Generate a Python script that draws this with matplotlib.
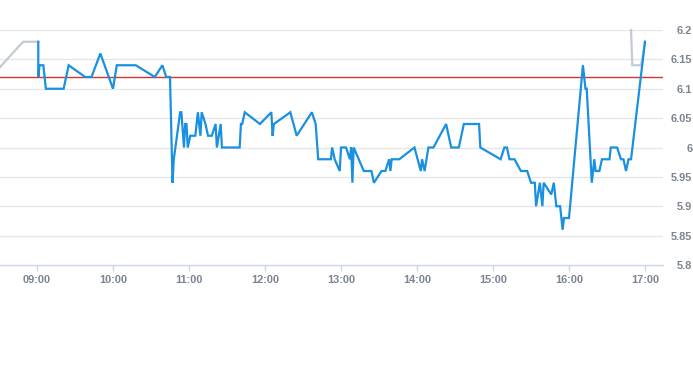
import matplotlib
matplotlib.use("Agg")
import matplotlib.pyplot as plt

# intraday price, blue series
blue_times = ["09:01", "09:01", "09:02", "09:05", "09:07", "09:21", "09:25", "09:38", "09:43", "09:50",
              "10:00", "10:03", "10:18", "10:33", "10:39", "10:42", "10:45", "10:47", "10:48", "10:53",
              "10:54", "10:56", "10:57", "10:58", "10:59", "11:01", "11:05", "11:07", "11:09", "11:10",
              "11:13", "11:15", "11:18", "11:21", "11:22", "11:25", "11:26", "11:40", "11:41", "11:42",
              "11:44", "11:56", "12:05", "12:06", "12:07", "12:20", "12:25", "12:37", "12:40", "12:42",
              "12:52", "12:53", "12:55", "12:59", "13:00", "13:04", "13:07", "13:08", "13:09", "13:10",
              "13:14", "13:18", "13:24", "13:26", "13:32", "13:35", "13:38", "13:39", "13:40", "13:46",
              "13:58", "14:03", "14:04", "14:06", "14:09", "14:13", "14:23", "14:27", "14:33", "14:37",
              "14:49", "14:50", "15:06", "15:09", "15:11", "15:13", "15:17", "15:22", "15:27", "15:30",
              "15:33", "15:34", "15:37", "15:39", "15:40", "15:46", "15:48", "15:50", "15:53", "15:55",
              "15:56", "16:00", "16:11", "16:13", "16:14", "16:18", "16:20", "16:21", "16:24", "16:26",
              "16:32", "16:33", "16:38", "16:41", "16:43", "16:45", "16:47", "16:49", "17:00"]
blue_values = [6.18, 6.12, 6.14, 6.14, 6.10, 6.10, 6.14, 6.12, 6.12, 6.16,
               6.10, 6.14, 6.14, 6.12, 6.14, 6.12, 6.12, 5.94, 5.98, 6.06,
               6.06, 6.00, 6.04, 6.04, 6.00, 6.02, 6.02, 6.06, 6.02, 6.06,
               6.04, 6.02, 6.02, 6.04, 6.00, 6.04, 6.00, 6.00, 6.04, 6.04,
               6.06, 6.04, 6.06, 6.02, 6.04, 6.06, 6.02, 6.06, 6.04, 5.98,
               5.98, 6.00, 5.98, 5.96, 6.00, 6.00, 5.98, 6.00, 5.94, 6.00,
               5.98, 5.96, 5.96, 5.94, 5.96, 5.96, 5.98, 5.96, 5.98, 5.98,
               6.00, 5.96, 5.98, 5.96, 6.00, 6.00, 6.04, 6.00, 6.00, 6.04,
               6.04, 6.00, 5.98, 6.00, 6.00, 5.98, 5.98, 5.96, 5.96, 5.94,
               5.94, 5.90, 5.94, 5.90, 5.94, 5.92, 5.94, 5.90, 5.90, 5.86,
               5.88, 5.88, 6.14, 6.10, 6.10, 5.94, 5.98, 5.96, 5.96, 5.98,
               5.98, 6.00, 6.00, 5.98, 5.98, 5.96, 5.98, 5.98, 6.18]

# grey background series (two pieces)
grey_a_times = ["08:30", "08:49", "09:01"]
grey_a_values = [6.135, 6.18, 6.18]
grey_b_times = ["16:49", "16:50", "16:57", "17:00"]
grey_b_values = [6.20, 6.14, 6.14, 6.18]

ref_level = 6.12

hour_ticks = [9, 10, 11, 12, 13, 14, 15, 16, 17]
hour_labels = ["09:00", "10:00", "11:00", "12:00", "13:00", "14:00", "15:00", "16:00", "17:00"]
y_ticks = [5.8, 5.85, 5.9, 5.95, 6.0, 6.05, 6.1, 6.15, 6.2]
y_labels = ["5.8", "5.85", "5.9", "5.95", "6", "6.05", "6.1", "6.15", "6.2"]


def to_hours(t):
    h, m = t.split(":")
    return int(h) + int(m) / 60.0


W, H = 693, 365
fig = plt.figure(figsize=(W / 100, H / 100), dpi=100)
ax = fig.add_axes([0, 100 / H, 663 / W, 235 / H])

label_color = "#7a8591"
axis_color = "#ccd6eb"

ax.set_xlim(8.513, 17.237)
ax.set_ylim(5.8, 6.2)

for v in y_ticks[1:]:
    ax.axhline(v, color="#e6e6e6", lw=1, zorder=1)

ax.axhline(ref_level, color="#d0392e", lw=1, zorder=2)

ax.plot([to_hours(t) for t in grey_a_times], grey_a_values, color="#c3cbd3", lw=1.6,
        zorder=3, clip_on=False, solid_joinstyle="miter")
ax.plot([to_hours(t) for t in grey_b_times], grey_b_values, color="#c3cbd3", lw=1.6,
        zorder=3, clip_on=False, solid_joinstyle="miter")
ax.plot([to_hours(t) for t in blue_times], blue_values, color="#1a90e0", lw=1.6,
        zorder=4, clip_on=False, solid_joinstyle="miter")

for s in ["top", "left", "right"]:
    ax.spines[s].set_visible(False)
ax.spines["bottom"].set_color(axis_color)
ax.spines["bottom"].set_linewidth(1)

ax.set_xticks(hour_ticks)
ax.set_xticklabels(hour_labels)
ax.tick_params(axis="x", colors=axis_color, length=4, width=1, pad=3.5)

ax.yaxis.tick_right()
ax.set_yticks(y_ticks)
ax.set_yticklabels(y_labels)
ax.tick_params(axis="y", length=0, pad=21.2)

for lbl in ax.get_xticklabels() + ax.get_yticklabels():
    lbl.set_color(label_color)
    lbl.set_fontfamily("Liberation Sans")
    lbl.set_fontweight("bold")
    lbl.set_fontsize(7.9)
for lbl in ax.get_yticklabels():
    lbl.set_ha("right")

fig.savefig("out.png", dpi=100)
